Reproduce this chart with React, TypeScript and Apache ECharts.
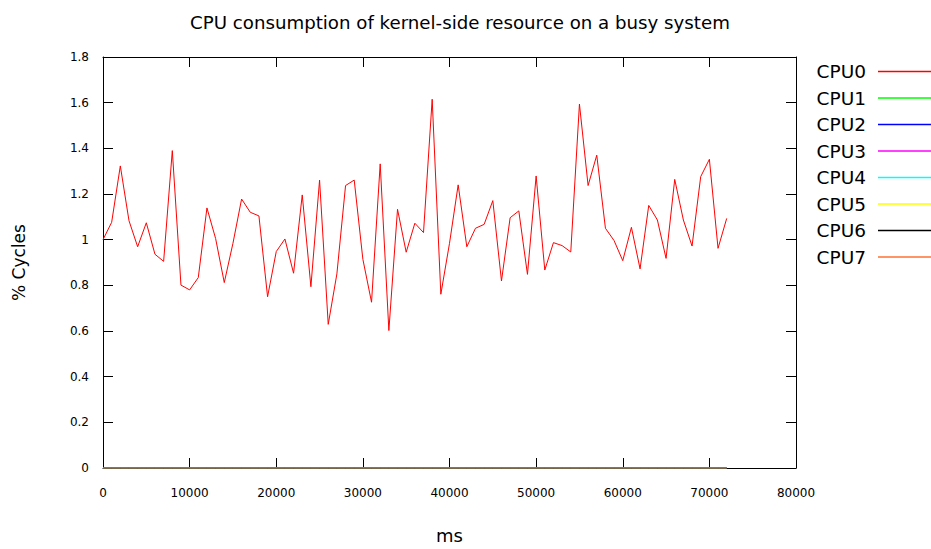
import React, { useEffect, useRef } from "react";
import * as echarts from "echarts";

const TITLE = "CPU consumption of kernel-side resource on a busy system";
const X_NAME = "ms";
const Y_NAME = "% Cycles";
const STEP_MS = 1000;
const SERIES_NAMES = ["CPU0", "CPU1", "CPU2", "CPU3", "CPU4", "CPU5", "CPU6", "CPU7"];
const SERIES_COLORS = ["#ff0000", "#00ff00", "#0000ff", "#ff00ff", "#00ffff", "#ffff00", "#000000", "#ff7030"];

const CPU0 = [
  1.0, 1.076, 1.323, 1.083, 0.969, 1.074, 0.936, 0.905, 1.39, 0.801,
  0.78, 0.834, 1.139, 1.005, 0.812, 0.984, 1.178, 1.12, 1.104, 0.75,
  0.948, 1.003, 0.853, 1.196, 0.794, 1.261, 0.629, 0.85, 1.237, 1.261,
  0.914, 0.726, 1.332, 0.602, 1.133, 0.945, 1.072, 1.031, 1.615, 0.761,
  0.984, 1.24, 0.969, 1.05, 1.067, 1.171, 0.819, 1.096, 1.126, 0.848,
  1.279, 0.867, 0.987, 0.974, 0.946, 1.594, 1.237, 1.37, 1.05, 0.996,
  0.908, 1.054, 0.872, 1.15, 1.086, 0.918, 1.264, 1.086, 0.972, 1.276,
  1.352, 0.962, 1.093,
];
const CPU1 = CPU0.map(() => 0);
const CPU2 = CPU0.map(() => 0);
const CPU3 = CPU0.map(() => 0);
const CPU4 = CPU0.map(() => 0);
const CPU5 = CPU0.map(() => 0);
const CPU6 = CPU0.map(() => 0);
const CPU7 = CPU0.map(() => 0);
const ALL_SERIES = [CPU0, CPU1, CPU2, CPU3, CPU4, CPU5, CPU6, CPU7];

const FONT = "DejaVu Sans";

export default function App() {
  const ref = useRef<HTMLDivElement>(null);
  useEffect(() => {
    if (!ref.current) return;
    const chart = echarts.init(ref.current, null, { renderer: "svg" });
    const axisLine = { show: true, onZero: false, lineStyle: { color: "#000", width: 1 } };
    const axisTick = { show: true, inside: true, length: 10, lineStyle: { color: "#000" } };
    chart.setOption({
      animation: false,
      backgroundColor: "#fff",
      title: {
        text: TITLE,
        left: 185,
        top: 8,
        textStyle: { fontFamily: FONT, fontSize: 18.2, fontWeight: "normal", color: "#000" },
      },
      legend: {
        orient: "vertical",
        right: 0,
        top: 62,
        padding: 0,
        align: "right",
        icon: "rect",
        itemWidth: 53,
        itemHeight: 1.5,
        itemGap: 7.5,
        data: SERIES_NAMES,
        textStyle: { fontFamily: FONT, fontSize: 18.5, color: "#000", lineHeight: 18, padding: [0, 7, 0, 0] },
      },
      grid: { left: 103, right: 135, top: 57, bottom: 81 },
      xAxis: [
        {
          type: "value",
          min: 0,
          max: 80000,
          interval: 10000,
          name: X_NAME,
          nameLocation: "middle",
          nameGap: 58,
          nameTextStyle: { fontFamily: FONT, fontSize: 18, color: "#000" },
          axisLine,
          axisTick,
          axisLabel: { fontFamily: FONT, fontSize: 12, color: "#000", margin: 19, formatter: (v: number) => String(v) },
          splitLine: { show: false },
        },
        {
          type: "value",
          position: "top",
          min: 0,
          max: 80000,
          interval: 10000,
          axisLine,
          axisTick,
          axisLabel: { show: false },
          splitLine: { show: false },
        },
      ],
      yAxis: [
        {
          type: "value",
          min: 0,
          max: 1.8,
          interval: 0.2,
          name: Y_NAME,
          nameLocation: "middle",
          nameGap: 76,
          nameRotate: 90,
          nameTextStyle: { fontFamily: FONT, fontSize: 17, color: "#000" },
          axisLine,
          axisTick,
          axisLabel: {
            fontFamily: FONT,
            fontSize: 12,
            color: "#000",
            margin: 14,
            formatter: (v: number) => String(Math.round(v * 10) / 10),
          },
          splitLine: { show: false },
        },
        {
          type: "value",
          position: "right",
          min: 0,
          max: 1.8,
          interval: 0.2,
          axisLine,
          axisTick,
          axisLabel: { show: false },
          splitLine: { show: false },
        },
      ],
      series: SERIES_NAMES.map((name, i) => ({
        name,
        type: "line",
        xAxisIndex: 0,
        yAxisIndex: 0,
        symbol: "none",
        showSymbol: false,
        color: SERIES_COLORS[i],
        itemStyle: { color: SERIES_COLORS[i] },
        lineStyle: { width: 1, color: SERIES_COLORS[i] },
        data: ALL_SERIES[i].map((v, j) => [j * STEP_MS, v]),
      })),
    });
    return () => chart.dispose();
  }, []);
  return (
    <div
      ref={ref}
      style={{ position: "fixed", left: 0, top: 0, width: 931, height: 549, background: "#fff" }}
    />
  );
}
